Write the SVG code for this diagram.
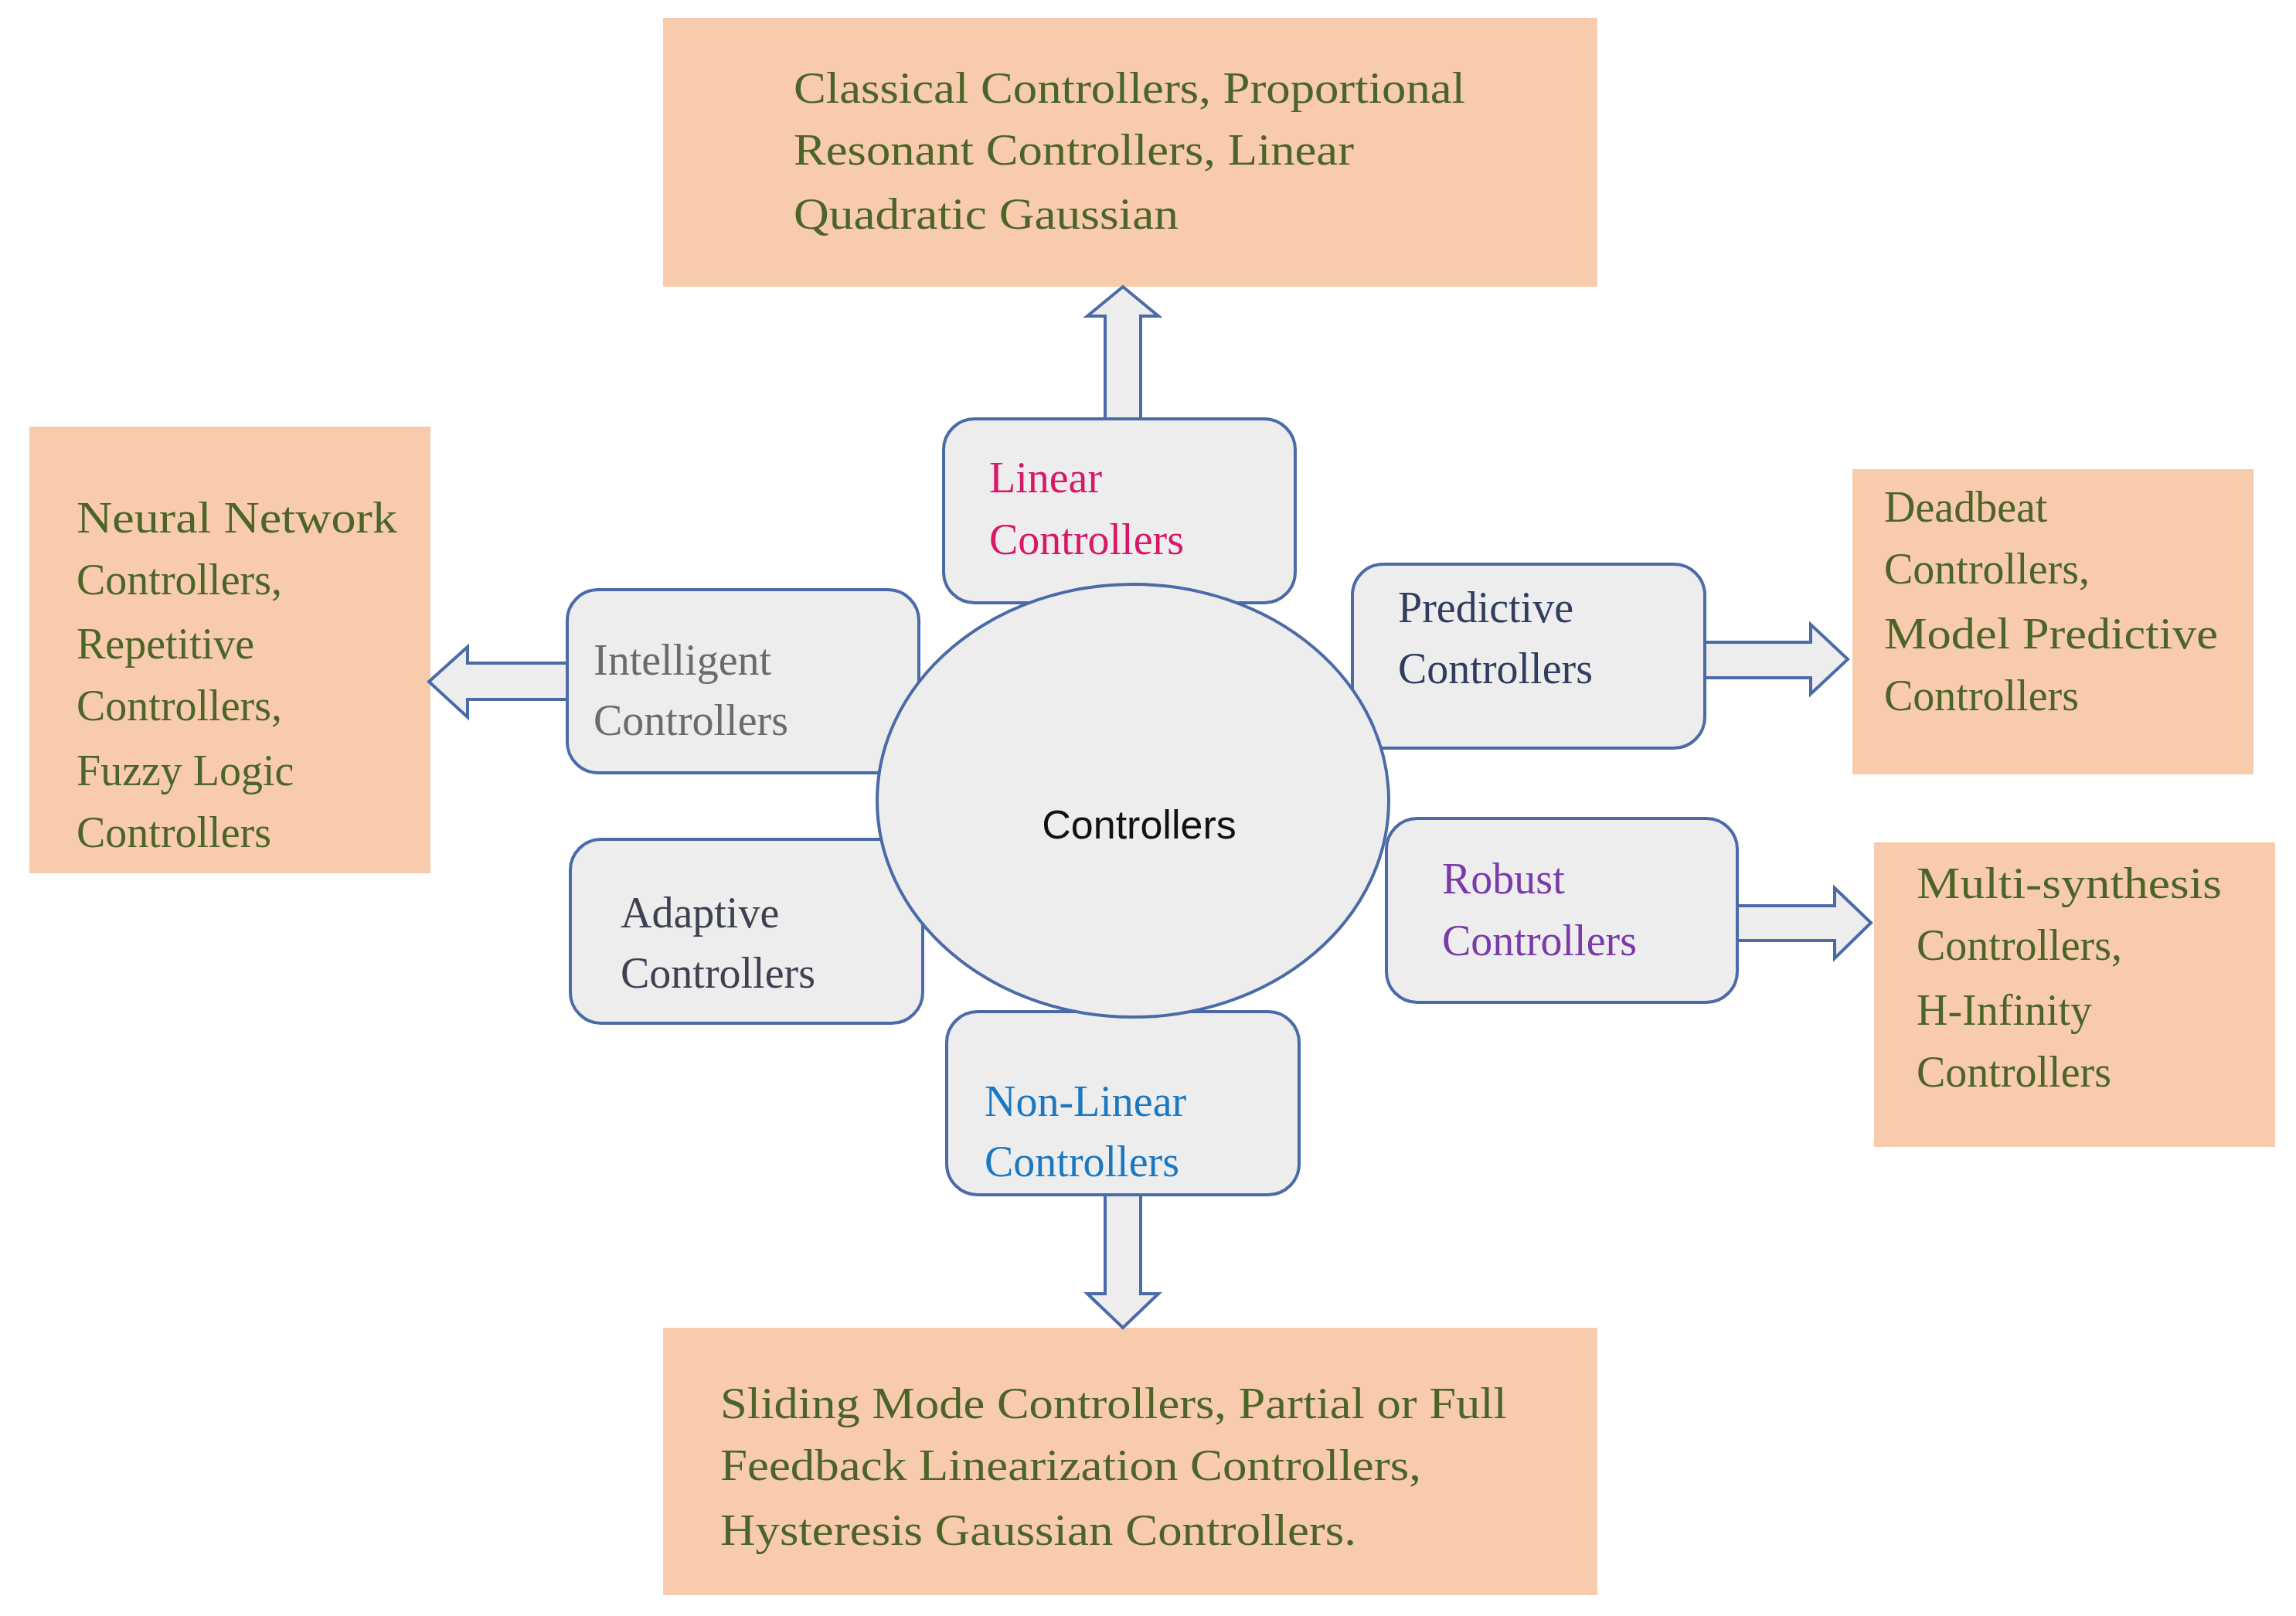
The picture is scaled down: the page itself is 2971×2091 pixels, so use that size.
<svg xmlns="http://www.w3.org/2000/svg" width="2971" height="2091" viewBox="0 0 2971 2091">
<style>
.ob{fill:#f8cbad}
.ot{font-family:"Liberation Serif",serif;font-size:56px;fill:#4b6526}
.gb{fill:#ededed;stroke:#4a6aa8;stroke-width:4}
.gt{font-family:"Liberation Serif",serif;font-size:56px}
.ar{fill:#ededed;stroke:#4a6aa8;stroke-width:4;stroke-linejoin:miter}
</style>
<rect width="2971" height="2091" fill="#fff"/>
<g id="top-box"><rect class="ob" x="858" y="23" width="1209" height="348"/>
<text class="ot" x="1027" y="133" textLength="869" lengthAdjust="spacingAndGlyphs">Classical Controllers, Proportional</text>
<text class="ot" x="1027" y="213" textLength="725" lengthAdjust="spacingAndGlyphs">Resonant Controllers, Linear</text>
<text class="ot" x="1027" y="296" textLength="498" lengthAdjust="spacingAndGlyphs">Quadratic Gaussian</text></g>
<g id="left-box"><rect class="ob" x="38" y="552" width="519" height="578"/>
<text class="ot" x="99" y="689" textLength="415" lengthAdjust="spacingAndGlyphs">Neural Network</text>
<text class="ot" x="99" y="769">Controllers,</text>
<text class="ot" x="99" y="852">Repetitive</text>
<text class="ot" x="99" y="932">Controllers,</text>
<text class="ot" x="99" y="1016">Fuzzy Logic</text>
<text class="ot" x="99" y="1096">Controllers</text></g>
<g id="right-top-box"><rect class="ob" x="2397" y="607" width="519" height="395"/>
<text class="ot" x="2438" y="675">Deadbeat</text>
<text class="ot" x="2438" y="755">Controllers,</text>
<text class="ot" x="2438" y="839" textLength="432" lengthAdjust="spacingAndGlyphs">Model Predictive</text>
<text class="ot" x="2438" y="919">Controllers</text></g>
<g id="right-bottom-box"><rect class="ob" x="2425" y="1090" width="519" height="394"/>
<text class="ot" x="2480" y="1162" textLength="395" lengthAdjust="spacingAndGlyphs">Multi-synthesis</text>
<text class="ot" x="2480" y="1242">Controllers,</text>
<text class="ot" x="2480" y="1326">H-Infinity</text>
<text class="ot" x="2480" y="1406">Controllers</text></g>
<g id="bottom-box"><rect class="ob" x="858" y="1718" width="1209" height="346"/>
<text class="ot" x="932" y="1835" textLength="1018" lengthAdjust="spacingAndGlyphs">Sliding Mode Controllers, Partial or Full</text>
<text class="ot" x="932" y="1915" textLength="907" lengthAdjust="spacingAndGlyphs">Feedback Linearization Controllers,</text>
<text class="ot" x="932" y="1999" textLength="823" lengthAdjust="spacingAndGlyphs">Hysteresis Gaussian Controllers.</text></g>
<g id="connectors">
<path class="ar" d="M1430,542 V409 H1407 L1453,371 L1499,409 H1476 V542 Z"/>
<path class="ar" d="M734,858 H605 V837 L555,882 L605,928 V905 H734 Z"/>
<path class="ar" d="M2206,831 H2343 V808 L2391,853 L2343,898 V877 H2206 Z"/>
<path class="ar" d="M2240,1172 H2374 V1149 L2421,1194 L2374,1240 V1217 H2240 Z"/>
<path class="ar" d="M1430,1546 V1674 H1407 L1453,1718 L1499,1674 H1476 V1546 Z"/>
</g>
<g id="linear"><rect class="gb" x="1221" y="542" width="455" height="238" rx="40"/>
<text class="gt" x="1280" y="637" fill="#d9176a">Linear</text>
<text class="gt" x="1280" y="717" fill="#d9176a">Controllers</text></g>
<g id="intelligent"><rect class="gb" x="734" y="763" width="455" height="237" rx="40"/>
<text class="gt" x="768" y="873" fill="#6b6b6b">Intelligent</text>
<text class="gt" x="768" y="951" fill="#6b6b6b">Controllers</text></g>
<g id="predictive"><rect class="gb" x="1750" y="730" width="456" height="238" rx="40"/>
<text class="gt" x="1809" y="805" fill="#2f3d5e">Predictive</text>
<text class="gt" x="1809" y="884" fill="#2f3d5e">Controllers</text></g>
<g id="adaptive"><rect class="gb" x="738" y="1086" width="456" height="238" rx="40"/>
<text class="gt" x="803" y="1200" fill="#3e4150">Adaptive</text>
<text class="gt" x="803" y="1278" fill="#3e4150">Controllers</text></g>
<g id="robust"><rect class="gb" x="1794" y="1059" width="454" height="238" rx="40"/>
<text class="gt" x="1866" y="1156" fill="#7a3aaa">Robust</text>
<text class="gt" x="1866" y="1236" fill="#7a3aaa">Controllers</text></g>
<g id="nonlinear"><rect class="gb" x="1225" y="1309" width="456" height="237" rx="40"/>
<text class="gt" x="1274" y="1444" fill="#1a78c2">Non-Linear</text>
<text class="gt" x="1274" y="1522" fill="#1a78c2">Controllers</text></g>
<g id="controllers"><ellipse class="gb" cx="1466" cy="1036" rx="331" ry="280"/>
<text x="1474" y="1085" text-anchor="middle" font-family="'Liberation Sans',sans-serif" font-size="52" fill="#111">Controllers</text></g>
</svg>
